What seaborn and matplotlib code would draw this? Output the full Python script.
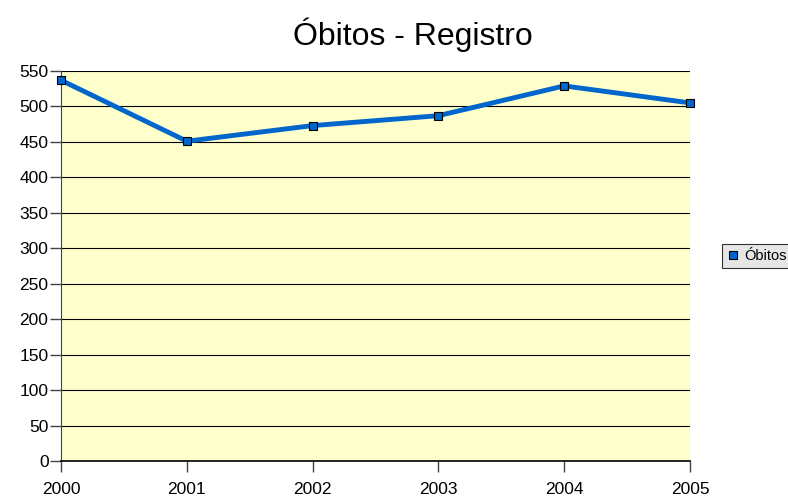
import pandas as pd
import seaborn as sns
import matplotlib.pyplot as plt
from matplotlib.lines import Line2D

anos = [2000, 2001, 2002, 2003, 2004, 2005]
obitos = [537, 451, 473, 487, 529, 505]

df = pd.DataFrame({"ano": anos, "obitos": obitos})

sns.set_style("white")
plt.rcParams["font.family"] = ["Liberation Sans", "DejaVu Sans"]
plt.rcParams["text.color"] = "black"
plt.rcParams["xtick.color"] = "black"
plt.rcParams["ytick.color"] = "black"

fig = plt.figure(figsize=(7.88, 4.97), dpi=100)
ax = fig.add_axes([61 / 788, 1 - 461 / 497, 629 / 788, 390 / 497])
ax.set_facecolor("#FFFFCC")

sns.lineplot(data=df, x="ano", y="obitos", ax=ax, color="#0066CC", linewidth=3.5,
             marker="s", markersize=5.5, markerfacecolor="#0066CC",
             markeredgecolor="black", markeredgewidth=0.8, clip_on=False, zorder=5)

ax.set_xlim(2000, 2005)
ax.set_ylim(0, 550)
ax.set_xticks(anos)
ax.set_yticks(range(0, 551, 50))
ax.yaxis.grid(True, color="black", linewidth=0.8)
ax.xaxis.grid(False)
ax.set_axisbelow(True)
ax.set_xlabel("")
ax.set_ylabel("")

for s in ["top", "right"]:
    ax.spines[s].set_visible(False)
ax.spines["left"].set_color("#444444")
ax.spines["bottom"].set_color("black")
ax.spines["bottom"].set_linewidth(1.2)
ax.tick_params(axis="both", which="both", length=8, width=1, color="#444444",
               direction="out", labelsize=12.5, pad=1, left=True, bottom=True)
ax.tick_params(axis="x", pad=7)

handle = Line2D([], [], linestyle="none", marker="s", markersize=6,
                markerfacecolor="#0066CC", markeredgecolor="black", markeredgewidth=0.8)
leg = fig.legend([handle], ["Óbitos"], loc="center left",
                 bbox_to_anchor=(722 / 788, 1 - 256 / 497), frameon=True,
                 fancybox=False, fontsize=10.5, handlelength=0.8, handletextpad=0.4,
                 borderpad=0.35, borderaxespad=0)
leg.get_frame().set_facecolor("#E0E0E0")
leg.get_frame().set_edgecolor("black")
leg.get_frame().set_linewidth(0.8)

fig.text(413 / 788, 1 - 35 / 497, "Óbitos - Registro", ha="center", va="center", fontsize=23)

fig.savefig("out.png", dpi=100)
